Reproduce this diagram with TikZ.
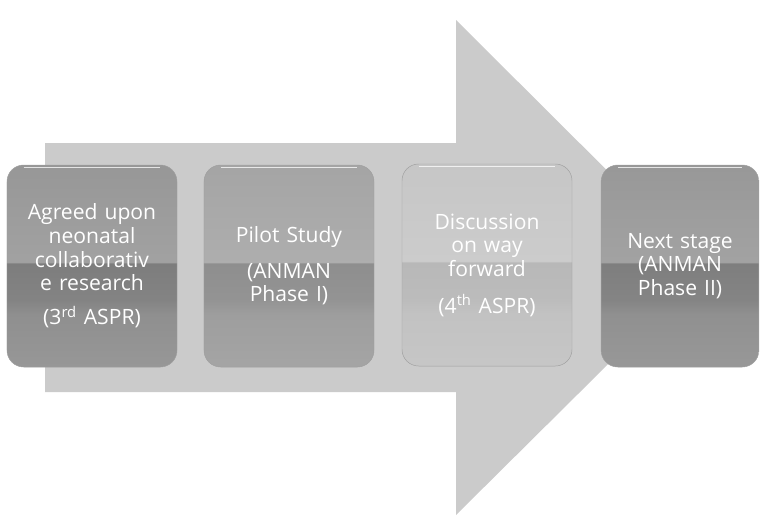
\documentclass[tikz,border=0pt]{standalone}
\usepackage{fontspec}
\setmainfont{Open Sans}
\usetikzlibrary{positioning}
\definecolor{arrowG}{RGB}{203,203,203}
\definecolor{stageA}{RGB}{125,125,125}
\definecolor{stageB}{RGB}{142,142,142}
\definecolor{stageC}{RGB}{184,184,184}
\definecolor{stageD}{RGB}{126,126,126}
% glossy look: light top, dark band just below the middle, lighter bottom
\newcommand\glossshade[2]{\pgfdeclareverticalshading{#1}{100bp}{color(0bp)=(#2!80!white); color(25bp)=(#2!80!white); color(38bp)=(#2!86!white); color(41.5bp)=(#2!95!white); color(50.6bp)=(#2); color(51bp)=(#2!72!white); color(75bp)=(#2!80!white); color(100bp)=(#2!80!white)}}
\glossshade{glossA}{stageA}
\glossshade{glossB}{stageB}
\glossshade{glossC}{stageC}
\glossshade{glossD}{stageD}

\begin{document}
\begin{tikzpicture}[x=0.03cm,y=-0.03cm,
  stage/.style={rectangle,rounded corners=0.5cm,draw=gray!75,thin,
    minimum width=5.1cm,minimum height=6.06cm,text width=4.8cm,align=center,
    text=white,font=\fontsize{18}{20.2}\selectfont,
    path picture={\draw[white,opacity=0.75,line width=1pt]
      ([xshift=0.5cm,yshift=-2pt]path picture bounding box.north west) --
      ([xshift=-0.5cm,yshift=-2pt]path picture bounding box.north east);}}]
\useasboundingbox (0,0) rectangle (763,518);
% big arrow behind the four stages
\coordinate (tailT) at (45,143); \coordinate (tailB) at (45,392);
\coordinate (neckT) at (456,143); \coordinate (neckB) at (456,392);
\coordinate (headT) at (456,20); \coordinate (headB) at (456,515); \coordinate (tip) at (705,268);
\fill[arrowG] (tailT)--(neckT)--(headT)--(tip)--(headB)--(neckB)--(tailB)--cycle;
% stages
\node[stage,shading=glossA] (agree) at (92,266) {Agreed upon\\neonatal\\collaborativ\\e research\\[9pt](3\textsuperscript{rd} ASPR)};
\node[stage,shading=glossB] (pilot) at (289,266) {Pilot Study\\[10pt](ANMAN\\Phase I)};
\node[stage,shading=glossC] (discuss) at (487,265) {Discussion\\on way\\forward\\[11pt](4\textsuperscript{th} ASPR)};
\node[stage,shading=glossD,minimum width=4.7cm,text width=4.5cm] (next) at (680,266) {Next stage\\(ANMAN\\Phase II)};
\end{tikzpicture}
\end{document}
